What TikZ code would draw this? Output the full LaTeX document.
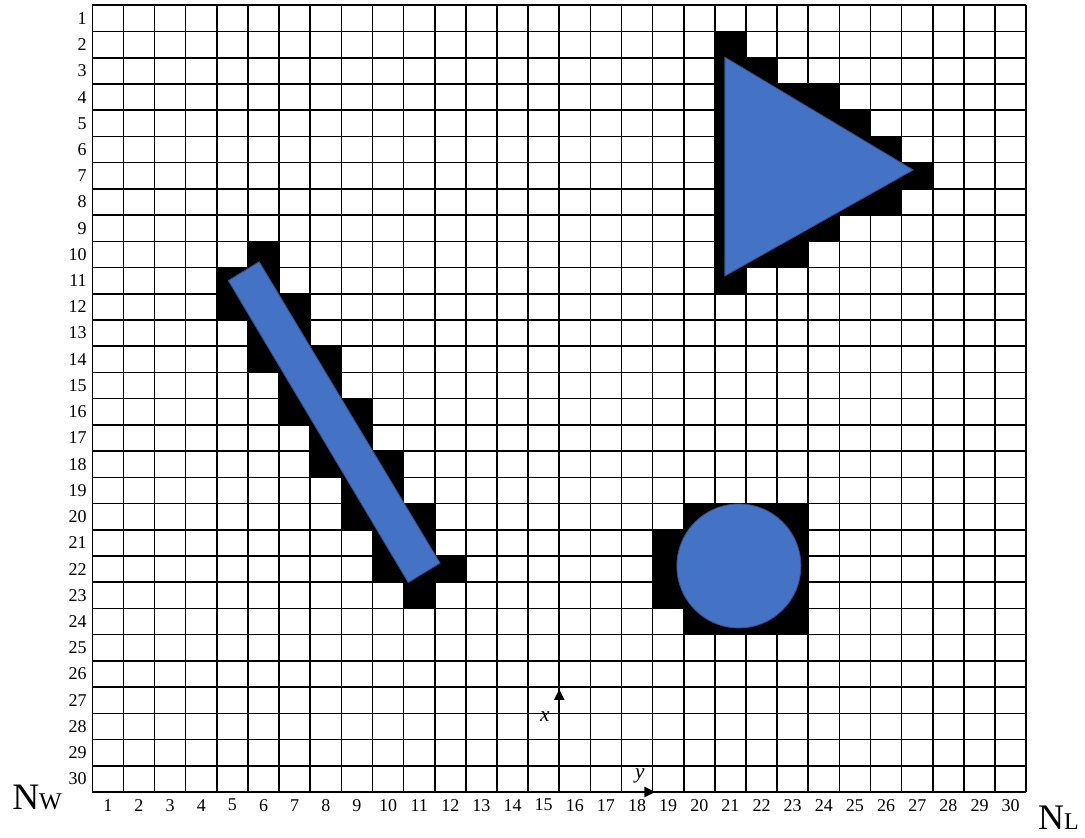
\documentclass[tikz,border=0pt]{standalone}
\usepackage{fontspec}
\setmainfont{Liberation Serif}
\usetikzlibrary{arrows.meta}
\definecolor{shapeblue}{RGB}{68,114,196}
\definecolor{shapeedge}{RGB}{47,82,143}

\begin{document}
\begin{tikzpicture}[x=23.35pt,y=-19.67pt,>={Triangle[length=8pt,width=7.5pt]},
  num/.style={inner sep=0pt,font=\fontsize{13.5}{16}\selectfont},
  axlabel/.style={font=\fontsize{16}{18}\selectfont\itshape,inner sep=0pt},
  blob/.style={fill=shapeblue,draw=shapeedge,line width=0.6pt},
  axis/.style={line width=1.6pt}]
  \useasboundingbox (-2.965,-0.202) rectangle (31.889,31.746);
  % black pixels: row/first column/last column
  \foreach \r/\a/\b in
  {
    2/21/21, 3/21/22, 4/21/24, 5/21/25, 6/21/26, 7/21/27, 8/21/26, 9/21/24, 10/21/23, 11/21/21,
    10/6/6, 11/5/6, 12/5/7, 13/6/7, 14/6/8, 15/7/8, 16/7/9, 17/8/9, 18/8/10, 19/9/10,
    20/9/11, 21/10/11, 22/10/12, 23/11/11,
    20/20/23, 21/19/23, 22/19/23, 23/19/23, 24/20/23%
  }
  {
    \fill (\a-1,\r-1) rectangle (\b,\r);
  }
  % grid lines
  \foreach \k in {0,...,30}
  {
    \draw[line width=1.2pt] (\k,0) -- (\k,30);
    \draw[line width=1.2pt] (0,\k) -- (30,\k);
  }
  \foreach \n in {1,...,30}
  {
    \node[num,anchor=east] (row\n) at (-0.17,\n-0.5) {\n};
    \node[num] (col\n) at (\n-0.5,30.5) {\n};
  }
  % objects
  \draw[blob] (20.32,1.98) -- (26.37,6.28) -- (20.32,10.32) -- cycle;
  \draw[blob] (4.37,10.50) -- (5.36,9.78) -- (11.17,21.27) -- (10.15,22.01) -- cycle;
  \draw[blob] (20.77,21.38) circle[radius=46.5pt];
  % axes
  \coordinate (o) at (15,30);
  \coordinate (xtip) at (15,26.08);
  \coordinate (ytip) at (18.08,30);
  \coordinate (yend) at (28.61,30);
  \draw[axis] (o) -- (yend);
  \draw[axis,->] (o) -- (xtip);
  \draw[axis,->] (o) -- (ytip);
  \node[axlabel] (xlab) at (14.54,27.13) {x};
  \node[axlabel] (ylab) at (17.59,29.40) {y};
  \node[anchor=base west,inner sep=0pt] (nw) at (-2.58,30.68)
    {\fontsize{28}{30}\selectfont N\fontsize{18}{20}\selectfont W};
  \node[anchor=base east,inner sep=0pt] (nl) at (31.70,31.42)
    {\fontsize{27}{30}\selectfont N\fontsize{18}{20}\selectfont L};
\end{tikzpicture}
\end{document}
